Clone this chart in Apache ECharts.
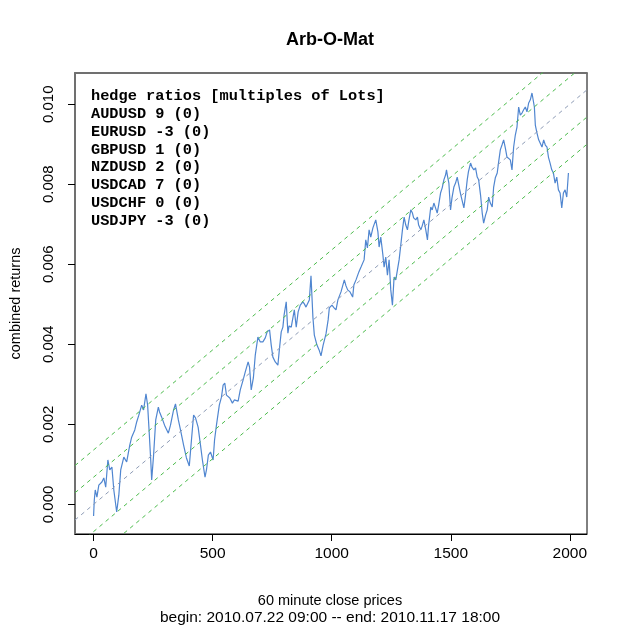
<!DOCTYPE html>
<html>
<head>
<meta charset="utf-8">
<title>Arb-O-Mat</title>
<script src="https://cdn.jsdelivr.net/npm/echarts@6.0.0/dist/echarts.min.js"></script>
<style>
    html, body { margin: 0; padding: 0; background: #fff; }
    #chart { width: 625px; height: 625px; }
</style>
</head>
<body>
<div id="chart"></div>
<script>
    // combined returns, [bar index, value]
    var combinedReturns = [
        [0, -0.00029], [3, 0.00011], [7, 0.00036], [14, 0.00018], [22, 0.00048], [35, 0.00056],
        [43, 0.00066], [51, 0.00043], [60, 0.00111], [68, 0.00086], [77, 0.00093], [85, 0.00036],
        [97, -0.00019], [106, 0.00023], [114, 0.00086], [127, 0.00118], [139, 0.00106], [152, 0.00148],
        [160, 0.00168], [173, 0.00186], [181, 0.00206], [190, 0.00223], [202, 0.00248], [210, 0.00236],
        [220, 0.00276], [227, 0.00248], [233, 0.00186], [240, 0.00111], [244, 0.00061], [252, 0.00123],
        [261, 0.00211], [272, 0.00243], [277, 0.00231], [286, 0.00218], [298, 0.00198], [314, 0.00178],
        [323, 0.00198], [336, 0.00236], [344, 0.00251], [356, 0.00211], [365, 0.00186], [378, 0.00148],
        [390, 0.00116], [402, 0.00096], [411, 0.00161], [420, 0.00223], [428, 0.00216], [439, 0.00193],
        [449, 0.00148], [457, 0.00111], [468, 0.00068], [474, 0.00086], [482, 0.00123], [491, 0.00131],
        [502, 0.00111], [508, 0.00161], [516, 0.00198], [528, 0.00248], [537, 0.00268], [544, 0.00298],
        [551, 0.00303], [558, 0.00273], [572, 0.00266], [583, 0.00253], [591, 0.00261], [607, 0.00258],
        [616, 0.00286], [628, 0.00311], [637, 0.00331], [649, 0.00356], [655, 0.00343], [662, 0.00286],
        [671, 0.00316], [679, 0.00373], [690, 0.00418], [700, 0.00406], [711, 0.00406], [721, 0.00416],
        [729, 0.00431], [739, 0.00436], [746, 0.00398], [753, 0.00368], [763, 0.00356], [774, 0.00348],
        [780, 0.00386], [788, 0.00431], [795, 0.00443], [800, 0.00473], [809, 0.00506], [816, 0.00428],
        [821, 0.00446], [830, 0.00443], [843, 0.00486], [851, 0.00443], [859, 0.00481], [868, 0.00498],
        [879, 0.00506], [885, 0.00501], [892, 0.00493], [906, 0.00511], [913, 0.00571], [921, 0.00468],
        [927, 0.00423], [938, 0.00398], [947, 0.00386], [955, 0.00371], [964, 0.00398], [976, 0.00426],
        [985, 0.00461], [990, 0.00491], [1001, 0.00498], [1010, 0.00491], [1018, 0.00486], [1026, 0.00511],
        [1039, 0.00531], [1053, 0.00561], [1060, 0.00546], [1067, 0.00536], [1077, 0.00531], [1088, 0.00518],
        [1093, 0.00548], [1102, 0.00561], [1114, 0.00581], [1123, 0.00593], [1136, 0.00611], [1143, 0.00661],
        [1150, 0.00641], [1157, 0.00686], [1164, 0.00668], [1173, 0.00691], [1185, 0.00711], [1194, 0.00681],
        [1199, 0.00643], [1206, 0.00668], [1215, 0.00623], [1220, 0.00593], [1227, 0.00618], [1234, 0.00573],
        [1241, 0.00611], [1248, 0.00536], [1255, 0.00498], [1262, 0.00568], [1269, 0.00561], [1276, 0.00586],
        [1283, 0.00611], [1290, 0.00648], [1297, 0.00686], [1304, 0.00718], [1311, 0.00698], [1318, 0.00686],
        [1323, 0.00706], [1332, 0.00736], [1339, 0.00728], [1344, 0.00716], [1353, 0.00711], [1360, 0.00718],
        [1365, 0.00698], [1374, 0.00686], [1380, 0.00696], [1387, 0.00711], [1395, 0.00686], [1402, 0.00661],
        [1407, 0.00698], [1416, 0.00743], [1422, 0.00736], [1429, 0.00753], [1436, 0.00741], [1443, 0.00728],
        [1449, 0.00748], [1457, 0.00778], [1464, 0.00791], [1471, 0.00811], [1478, 0.00823], [1482, 0.00836],
        [1486, 0.00821], [1492, 0.00803], [1495, 0.00773], [1499, 0.00736], [1505, 0.00766], [1513, 0.00793],
        [1520, 0.00803], [1527, 0.00818], [1532, 0.00803], [1541, 0.00776], [1547, 0.00761], [1555, 0.00741],
        [1562, 0.00773], [1569, 0.00811], [1574, 0.00831], [1583, 0.00853], [1589, 0.00843], [1597, 0.00836],
        [1604, 0.00841], [1611, 0.00818], [1617, 0.00811], [1625, 0.00773], [1632, 0.00728], [1638, 0.00703],
        [1646, 0.00723], [1653, 0.00736], [1659, 0.00768], [1666, 0.00753], [1674, 0.00743], [1680, 0.00793],
        [1687, 0.00816], [1695, 0.00828], [1701, 0.00856], [1708, 0.00886], [1715, 0.00898], [1722, 0.00911],
        [1729, 0.00891], [1736, 0.00868], [1743, 0.00866], [1750, 0.00861], [1757, 0.00836], [1764, 0.00893],
        [1771, 0.00923], [1778, 0.00943], [1785, 0.00993], [1792, 0.00973], [1799, 0.00978], [1806, 0.00986],
        [1813, 0.00993], [1820, 0.00981], [1827, 0.01003], [1834, 0.01011], [1841, 0.01028], [1848, 0.01031],
        [1851, 0.00993], [1855, 0.00948], [1862, 0.00928], [1869, 0.00911], [1876, 0.00911], [1883, 0.00893],
        [1890, 0.00911], [1897, 0.00898], [1904, 0.00893], [1910, 0.00868], [1917, 0.00853], [1924, 0.00836],
        [1931, 0.00828], [1938, 0.00803], [1945, 0.00818], [1952, 0.00786], [1959, 0.00778], [1966, 0.00741],
        [1973, 0.00778], [1980, 0.00786], [1987, 0.00768], [1994, 0.00828]
    ];

    // regression line and bands (1 and 2 sd)
    var fitIntercept = 0;
    var fitSlope = 5.0e-6;
    var bandSd = 0.00068;
    var bandMultiples = [-2, -1, 1, 2];

    var hedgePairs = ['AUDUSD', 'EURUSD', 'GBPUSD', 'NZDUSD', 'USDCAD', 'USDCHF', 'USDJPY'];
    var hedgeRatios = [9, -3, 1, 2, 7, 0, -3];
    var hedgeRemainders = [0, 0, 0, 0, 0, 0, 0];

    var xTicks = [0, 500, 1000, 1500, 2000];
    var yTicks = [0, 0.002, 0.004, 0.006, 0.008, 0.010];
    var xRange = [-78, 2072];
    var yRange = [-0.00074, 0.01078];

    var chartDom = document.getElementById('chart');
    var myChart = echarts.init(chartDom);

    function fitLine(offset) {
        return [
            [xRange[0], fitIntercept + fitSlope * xRange[0] + offset],
            [xRange[1], fitIntercept + fitSlope * xRange[1] + offset]
        ];
    }

    var legendLines = ['hedge ratios [multiples of Lots]'];
    for (var i = 0; i < hedgePairs.length; i++) {
        legendLines.push(hedgePairs[i] + ' ' + hedgeRatios[i] + ' (' + hedgeRemainders[i] + ')');
    }

    var sansFont = 'Liberation Sans, Arial, sans-serif';

    var series = [
        {
            name: 'combined',
            type: 'line',
            data: combinedReturns,
            showSymbol: false,
            lineStyle: { color: '#5086d0', width: 1.2 },
            z: 2
        },
        {
            name: 'fit',
            type: 'line',
            data: fitLine(0),
            showSymbol: false,
            lineStyle: { color: '#8e9cb6', width: 1, type: [4, 4] },
            z: 3
        }
    ];
    bandMultiples.forEach(function (m) {
        series.push({
            name: 'band' + m,
            type: 'line',
            data: fitLine(m * bandSd),
            showSymbol: false,
            lineStyle: { color: '#4cbb4c', width: 1, type: [4, 4] },
            z: 3
        });
    });

    option = {
        backgroundColor: '#ffffff',
        animation: false,
        title: [
            {
                text: 'Arb-O-Mat',
                left: 325,
                top: 26,
                textAlign: 'center',
                textStyle: { fontFamily: sansFont, fontSize: 18, fontWeight: 'bold', color: '#000' }
            },
            {
                text: '60 minute close prices',
                left: 325,
                top: 588,
                textAlign: 'center',
                textStyle: { fontFamily: sansFont, fontSize: 14.5, fontWeight: 'normal', color: '#000' }
            },
            {
                text: 'begin: 2010.07.22 09:00 -- end: 2010.11.17 18:00',
                left: 325,
                top: 605,
                textAlign: 'center',
                textStyle: { fontFamily: sansFont, fontSize: 15.5, fontWeight: 'normal', color: '#000' }
            }
        ],
        grid: {
            left: 73,
            right: 38,
            top: 73,
            bottom: 91,
            show: true,
            borderColor: '#000',
            borderWidth: 1,
            backgroundColor: 'transparent'
        },
        xAxis: [
            {
                type: 'value',
                min: xRange[0],
                max: xRange[1],
                axisLine: { show: true, onZero: false, lineStyle: { color: '#000', width: 1 } },
                axisTick: { show: true, inside: false, length: 7, lineStyle: { color: '#000' }, customValues: xTicks },
                axisLabel: {
                    customValues: xTicks,
                    margin: 12,
                    fontFamily: sansFont,
                    fontSize: 15.5,
                    color: '#000',
                    formatter: function (v) { return String(v); }
                },
                splitLine: { show: false }
            },
            {
                type: 'value',
                position: 'top',
                min: xRange[0],
                max: xRange[1],
                axisLine: { show: true, onZero: false, lineStyle: { color: '#707070', width: 2 } },
                axisTick: { show: false },
                axisLabel: { show: false },
                splitLine: { show: false }
            }
        ],
        yAxis: {
            type: 'value',
            min: yRange[0],
            max: yRange[1],
            name: 'combined returns',
            nameLocation: 'middle',
            nameRotate: 90,
            nameGap: 52,
            nameTextStyle: { fontFamily: sansFont, fontSize: 14.5, color: '#000' },
            axisLine: { show: true, onZero: false, lineStyle: { color: '#707070', width: 2 } },
            axisTick: { show: true, inside: false, length: 7, lineStyle: { color: '#000' }, customValues: yTicks },
            axisLabel: {
                customValues: yTicks,
                rotate: 90,
                margin: 19,
                fontFamily: sansFont,
                fontSize: 15,
                color: '#000',
                formatter: function (v) { return v.toFixed(3); }
            },
            splitLine: { show: false }
        },
        graphic: [
            {
                type: 'text',
                left: 91,
                top: 87,
                z: 10,
                style: {
                    text: legendLines.join('\n'),
                    font: 'bold 15.3px "Liberation Mono", "Courier New", monospace',
                    lineHeight: 17.9,
                    fill: '#000'
                }
            }
        ],
        series: series
    };

    var option;
    option && myChart.setOption(option);
</script>
</body>
</html>
